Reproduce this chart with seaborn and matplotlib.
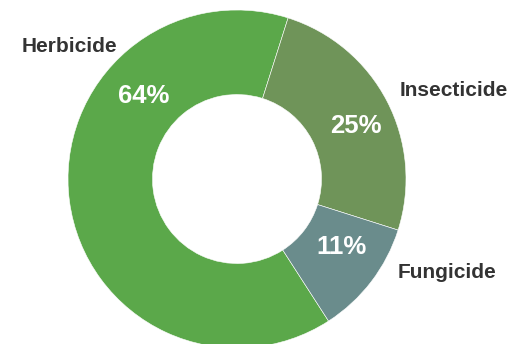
import numpy as np
import matplotlib
matplotlib.use("Agg")
import matplotlib.pyplot as plt
import seaborn as sns

categories = ["Herbicide", "Insecticide", "Fungicide"]
shares = [64, 25, 11]
colors = ["#5ba84a", "#6f9459", "#6a8c8c"]

sns.set_theme(style="white")
plt.rcParams["font.family"] = ["Liberation Sans", "DejaVu Sans"]

fig = plt.figure(figsize=(5.12, 3.44), dpi=100)
ax = fig.add_axes([0, 0, 1, 1])

cx, cy, R = 237, 165, 169
ax.pie(shares, colors=colors, startangle=-57.2, counterclock=False,
       center=(cx, cy), radius=R,
       wedgeprops=dict(width=R * 0.5, edgecolor="white", linewidth=0.4))

ax.set_xlim(0, 512)
ax.set_ylim(0, 344)
ax.set_aspect("equal")
ax.axis("off")

# value labels inside the ring, outer category labels beside it (pixel offsets from centre)
value_pos = [(-93, 83), (119, 53), (104, -68)]
name_pos = [(-168, 133), (217, 88), (210, -94)]
for cat, v, (vx, vy), (nx, ny) in zip(categories, shares, value_pos, name_pos):
    ax.text(cx + vx, cy + vy, f"{v}%", ha="center", va="center",
            fontsize=18.5, fontweight="bold", color="white")
    ax.text(cx + nx, cy + ny, cat, ha="center", va="center",
            fontsize=15, fontweight="bold", color="#333333")

fig.savefig("out.png", dpi=100, facecolor="white")
